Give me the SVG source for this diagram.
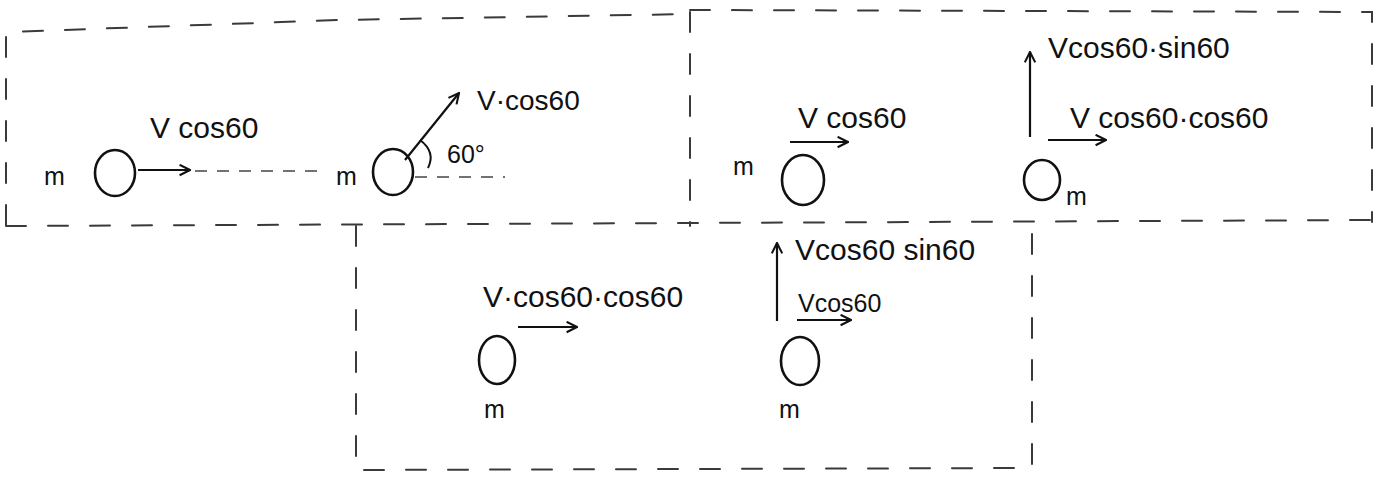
<svg xmlns="http://www.w3.org/2000/svg" width="1385" height="478" viewBox="0 0 1385 478">
<style>
.bg{fill:#ffffff}
.frame{fill:none;stroke:#3a3a3a;stroke-width:2;stroke-dasharray:20 22;stroke-linecap:round}
.guide{fill:none;stroke:#444;stroke-width:1.6;stroke-dasharray:12 10}
.ball{fill:none;stroke:#111;stroke-width:2.6}
.vec{fill:none;stroke:#111;stroke-width:2.2;marker-end:url(#hook)}
.lbl{font-family:"Liberation Sans",Arial,sans-serif;font-size:30px;fill:#111}
.m{font-family:"Liberation Sans",Arial,sans-serif;font-size:25px;fill:#111}
</style>
<defs>
<marker id="hook" viewBox="0 0 10 10" refX="9" refY="5" markerWidth="13" markerHeight="13" markerUnits="userSpaceOnUse" orient="auto">
<path d="M1,1 L9,5 L1,9" fill="none" stroke="#111" stroke-width="1.6"/>
</marker>
</defs>
<rect class="bg" x="0" y="0" width="1385" height="478"/>

<g id="frames">
<path class="frame" d="M6,225 L6,32 L340,20 L690,14"/>
<path class="frame" d="M690,10 L1372,12 L1372,222"/>
<path class="frame" d="M690,12 L690,226"/>
<path class="frame" d="M6,226 L1372,220"/>
<path class="frame" d="M356,226 L356,470 L1032,468 L1032,222"/>
</g>

<g id="panel1-ball1">
<text class="m" x="44" y="185">m</text>
<ellipse class="ball" cx="115" cy="173" rx="20" ry="23"/>
</g>
<g id="panel1-ball2">
<text class="m" x="336" y="185">m</text>
<ellipse class="ball" cx="393" cy="172" rx="20" ry="23"/>
<path d="M420,140 Q436,152 428,168" fill="none" stroke="#111" stroke-width="2"/>
<text class="m" x="447" y="163">60°</text>
</g>
<g id="panel2-ball1">
<text class="m" x="733" y="175">m</text>
<ellipse class="ball" cx="803" cy="180" rx="21" ry="25"/>
</g>
<g id="panel2-ball2">
<ellipse class="ball" cx="1042" cy="180" rx="18" ry="20"/>
<text class="m" x="1066" y="205">m</text>
</g>
<g id="panel3-ball1">
<ellipse class="ball" cx="497" cy="360" rx="18" ry="24"/>
<text class="m" x="484" y="418">m</text>
</g>
<g id="panel3-ball2">
<ellipse class="ball" cx="800" cy="361" rx="19" ry="24"/>
<text class="m" x="779" y="418">m</text>
</g>

<g id="connectors">
<line class="guide" x1="195" y1="171" x2="322" y2="171"/>
<line class="guide" x1="415" y1="177" x2="505" y2="177"/>
<line class="vec" x1="138" y1="170" x2="190" y2="170"/>
<line class="vec" x1="405" y1="160" x2="459" y2="93"/>
<line class="vec" x1="790" y1="142" x2="848" y2="142"/>
<line class="vec" x1="1030" y1="137" x2="1030" y2="52"/>
<line class="vec" x1="1048" y1="140" x2="1106" y2="140"/>
<line class="vec" x1="518" y1="327" x2="577" y2="327"/>
<line class="vec" x1="777" y1="321" x2="777" y2="243"/>
<line class="vec" x1="797" y1="320" x2="851" y2="320"/>
</g>

<g id="labels">
<text class="lbl" x="150" y="138">V cos60</text>
<text class="lbl" x="477" y="110" style="font-size:28px">V·cos60</text>
<text class="lbl" x="798" y="128">V cos60</text>
<text class="lbl" x="1048" y="58">Vcos60·sin60</text>
<text class="lbl" x="1070" y="128">V cos60·cos60</text>
<text class="lbl" x="483" y="307">V·cos60·cos60</text>
<text class="lbl" x="795" y="260">Vcos60 sin60</text>
<text class="lbl" x="798" y="312" style="font-size:25px">Vcos60</text>
</g>
</svg>
